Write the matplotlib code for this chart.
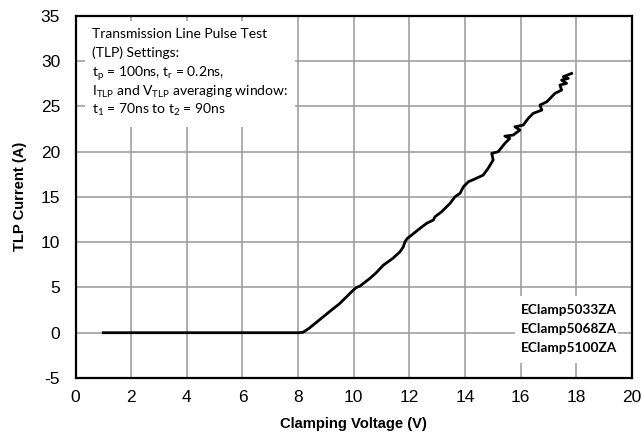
import matplotlib
matplotlib.use("Agg")
import matplotlib.pyplot as plt
from matplotlib.patches import Rectangle

voltage = [1.0, 3.0, 5.0, 7.0, 8.0, 8.18, 8.4, 8.9, 9.2, 9.5, 9.98, 10.1, 10.22, 10.58, 10.8,
           11.06, 11.4, 11.66, 11.78, 11.84, 11.92, 12.08, 12.38, 12.62, 12.86, 12.92, 13.16,
           13.46, 13.64, 13.82, 13.94, 14.12, 14.3, 14.65, 14.83, 15.01, 14.96, 15.19, 15.43,
           15.61, 15.43, 15.73, 15.97, 15.79, 16.09, 16.27, 16.45, 16.76, 16.69, 16.94, 17.23,
           17.47, 17.41, 17.65, 17.47, 17.71, 17.53, 17.83]
current = [0, 0, 0, 0, 0, 0.05, 0.5, 1.75, 2.5, 3.23, 4.7, 5.0, 5.14, 6.0, 6.6,
           7.45, 8.2, 8.93, 9.48, 10.03, 10.4, 10.78, 11.52, 12.08, 12.44, 12.8, 13.36,
           14.28, 15.01, 15.39, 16.11, 16.67, 16.9, 17.4, 18.15, 19.06, 19.8, 19.98, 20.9,
           21.46, 21.7, 21.82, 22.37, 22.74, 22.92, 23.66, 24.22, 24.58, 25.13, 25.5, 26.42,
           26.79, 27.34, 27.53, 27.89, 28.08, 28.26, 28.63]

xticks = list(range(0, 21, 2))
yticks = list(range(-5, 36, 5))
legend_labels = ["EClamp5033ZA", "EClamp5068ZA", "EClamp5100ZA"]
info_lines = ["Transmission Line Pulse Test",
              "(TLP) Settings:",
              "t$_\\mathregular{p}$ = 100ns, t$_\\mathregular{r}$ = 0.2ns,",
              "I$_\\mathregular{TLP}$ and V$_\\mathregular{TLP}$ averaging window:",
              "t$_\\mathregular{1}$ = 70ns to t$_\\mathregular{2}$ = 90ns"]

plt.rcParams['font.family'] = ['Liberation Sans', 'DejaVu Sans']
plt.rcParams['mathtext.default'] = 'regular'
plt.rcParams['axes.unicode_minus'] = False

W, H = 642, 443
fig = plt.figure(figsize=(W / 100, H / 100), dpi=100)
L, R, T, B = 75.5, 632.0, 15.7, 378.0
ax = fig.add_axes([L / W, 1 - B / H, (R - L) / W, (B - T) / H])
ax.set_xlim(0, 20)
ax.set_ylim(-5, 35)
ax.set_xticks(xticks)
ax.set_yticks(yticks)
ax.tick_params(length=0, labelsize=12.5)
ax.tick_params(axis='y', pad=11)
ax.tick_params(axis='x', pad=9)
ax.grid(True, color='#999999', linewidth=1.1)
ax.set_axisbelow(True)
for s in ax.spines.values():
    s.set_linewidth(1.6)
    s.set_color('black')

ax.plot(voltage, current, color='black', linewidth=2.0, zorder=3,
        solid_joinstyle='round')

ax.set_xlabel("Clamping Voltage (V)", fontsize=10.6, fontweight='bold', labelpad=8)
ax.set_ylabel("TLP Current (A)", fontsize=10.6, fontweight='bold', labelpad=10)

cal = ['Lato', 'DejaVu Sans']
# white boxes (in data coordinates)
ax.add_patch(Rectangle((0.33, 22.7), 7.55, 11.7, facecolor='white', edgecolor='none', zorder=2))
ax.add_patch(Rectangle((15.8, -3.35), 3.7, 7.4, facecolor='white', edgecolor='none', zorder=2))

baselines = [38.3, 57.3, 76.5, 95.5, 113.5]
for line, py in zip(info_lines, baselines):
    fig.text(92.5 / W, 1 - py / H, line, ha='left', va='baseline', fontsize=10.0,
             family=cal, zorder=5)

for lab, yv in zip(legend_labels, [2.5, 0.41, -1.66]):
    ax.text(17.74, yv, lab, ha='center', va='center', fontsize=9.8, family=cal,
            fontweight='bold', zorder=5)

fig.savefig("out.png", dpi=100)
